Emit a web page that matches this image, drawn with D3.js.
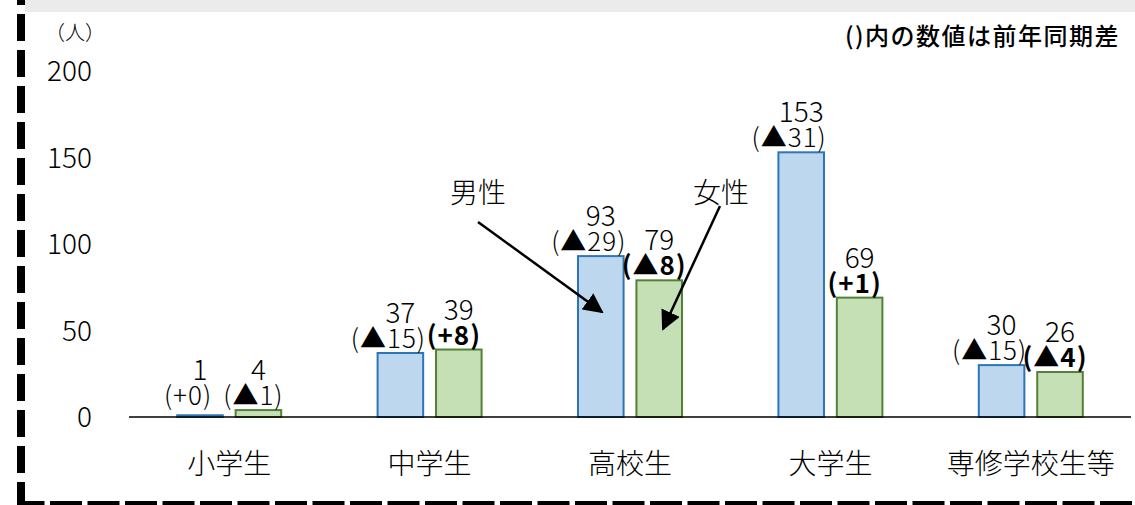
<!DOCTYPE html>
<html>
<head>
<meta charset="utf-8">
<script src="https://cdn.jsdelivr.net/npm/d3@7"></script>
<style>
  body { margin: 0; background: #fff; }
  text { font-family: "Noto Sans CJK JP", sans-serif; fill: #000; font-weight: 300; }
</style>
</head>
<body>
<script>
// data
var categories = ["小学生", "中学生", "高校生", "大学生", "専修学校生等"];
var male = [1, 37, 93, 153, 30];
var female = [4, 39, 79, 69, 26];
var maleDiff = ["(+0)", "(▲15)", "(▲29)", "(▲31)", "(▲15)"];
var femaleDiff = ["(▲1)", "(+8)", "(▲8)", "(+1)", "(▲4)"];
var yTicks = [0, 50, 100, 150, 200];

var width = 1135, height = 505;

var svg = d3.select("body").append("svg")
    .attr("width", width).attr("height", height);

// grey strip at top (cut-off header)
svg.append("rect").attr("x", 25).attr("y", 0).attr("width", width - 25).attr("height", 12)
    .attr("fill", "#ebebeb");

// dashed frame
svg.append("line").attr("x1", 21).attr("y1", 0).attr("x2", 21).attr("y2", 505)
    .attr("stroke", "#000").attr("stroke-width", 8)
    .attr("stroke-dasharray", "27,9").attr("stroke-dashoffset", 22);
svg.append("line").attr("x1", 17).attr("y1", 505).attr("x2", width).attr("y2", 505)
    .attr("stroke", "#000").attr("stroke-width", 8)
    .attr("stroke-dasharray", "32,5.5").attr("stroke-dashoffset", -33);

var x = d3.scaleBand().domain(categories).range([129, 1131]);
var inner = d3.scaleBand().domain(["男性", "女性"]).range([-52, 52]).paddingInner(0.22);
var y = d3.scaleLinear().domain([0, 200]).range([417, 71]);

// y tick labels
svg.append("g").selectAll("text").data(yTicks).enter().append("text")
    .attr("x", 92).attr("y", d => y(d) + 10)
    .attr("text-anchor", "end").attr("font-size", 28)
    .text(d => d);

svg.append("text").attr("x", 75).attr("y", 40).attr("text-anchor", "middle")
    .attr("font-size", 20).text("（人）");

svg.append("text").attr("x", 1120).attr("y", 45).attr("text-anchor", "end")
    .attr("font-size", 24).style("font-weight", 500).attr("letter-spacing", 1.5)
    .text("()内の数値は前年同期差");

var rows = categories.map((c, i) => ({
  cat: c, male: male[i], female: female[i], md: maleDiff[i], fd: femaleDiff[i], i: i
}));

var series = [
  {key: "男性", val: "male", diff: "md", fill: "#bdd7ee", stroke: "#2e75b6", dx: -12},
  {key: "女性", val: "female", diff: "fd", fill: "#c5e0b4", stroke: "#538135", dx: -5}
];

series.forEach(s => {
  var g = svg.append("g");
  g.selectAll("rect").data(rows).enter().append("rect")
      .attr("x", d => x(d.cat) + x.bandwidth() / 2 + inner(s.key))
      .attr("y", d => y(d[s.val]))
      .attr("width", inner.bandwidth())
      .attr("height", d => y(0) - y(d[s.val]))
      .attr("fill", s.fill).attr("stroke", s.stroke).attr("stroke-width", 2);

  var cx = d => x(d.cat) + x.bandwidth() / 2 + inner(s.key) + inner.bandwidth() / 2;
  g.selectAll("text.v").data(rows).enter().append("text").attr("class", "v")
      .attr("x", cx).attr("y", d => Math.min(y(d[s.val]), 410) - 30)
      .attr("text-anchor", "middle").attr("font-size", 28)
      .text(d => d[s.val]);
  g.selectAll("text.d").data(rows).enter().append("text").attr("class", "d")
      .attr("x", d => cx(d) + s.dx).attr("y", d => Math.min(y(d[s.val]), 410) - 5)
      .attr("text-anchor", "middle").attr("font-size", 26).attr("letter-spacing", 1)
      .style("font-weight", d => (s.val == "female" && d.i > 0) ? "bold" : null)
      .text(d => d[s.diff]);
});

// baseline
svg.append("line").attr("x1", 129).attr("x2", 1131).attr("y1", y(0)).attr("y2", y(0))
    .attr("stroke", "#000").attr("stroke-width", 1.5);

// category labels
svg.append("g").selectAll("text").data(categories).enter().append("text")
    .attr("x", d => x(d) + x.bandwidth() / 2).attr("y", 474)
    .attr("text-anchor", "middle").attr("font-size", 28)
    .text(d => d);

// callouts
svg.append("defs").append("marker").attr("id", "arr")
    .attr("viewBox", "0 0 10 10").attr("refX", 9).attr("refY", 5)
    .attr("markerWidth", 8).attr("markerHeight", 8).attr("orient", "auto")
    .attr("markerUnits", "strokeWidth")
  .append("path").attr("d", "M0,0L10,5L0,10z").attr("fill", "#000");

var callouts = [
  {label: "男性", tx: 478, ty: 203, x1: 478, y1: 222, x2: 602, y2: 312},
  {label: "女性", tx: 721, ty: 203, x1: 720, y1: 206, x2: 663, y2: 329}
];
callouts.forEach(c => {
  svg.append("text").attr("x", c.tx).attr("y", c.ty).attr("text-anchor", "middle")
      .attr("font-size", 28).text(c.label);
  svg.append("line").attr("x1", c.x1).attr("y1", c.y1).attr("x2", c.x2).attr("y2", c.y2)
      .attr("stroke", "#000").attr("stroke-width", 2.5).attr("marker-end", "url(#arr)");
});
</script>
</body>
</html>
